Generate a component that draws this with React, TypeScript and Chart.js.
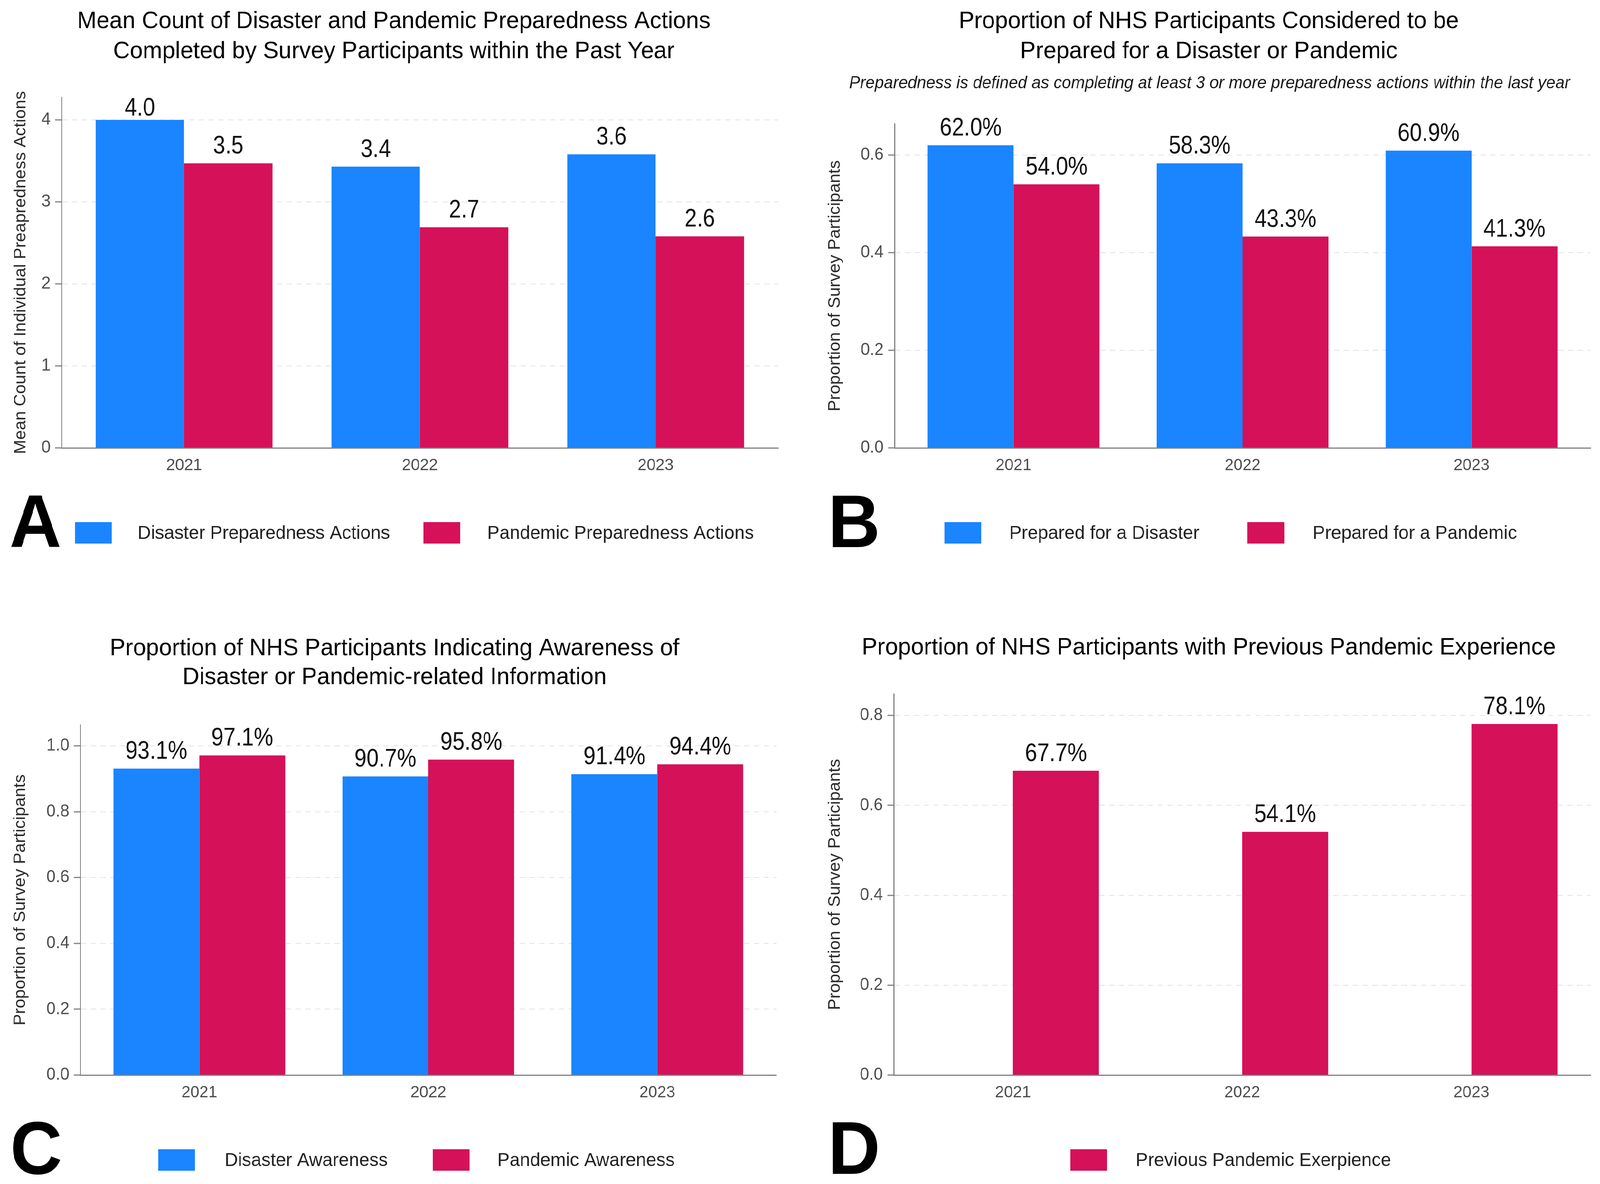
import React, { useEffect, useRef } from "react";
import { Chart, registerables } from "chart.js";

Chart.register(...registerables);

// ---------------- data ----------------
const years = ["2021", "2022", "2023"];

const meanDisasterActions = [4.0, 3.43, 3.58];
const meanPandemicActions = [3.47, 2.69, 2.58];

const preparedDisaster = [0.62, 0.583, 0.609];
const preparedPandemic = [0.54, 0.433, 0.413];

const disasterAwareness = [0.931, 0.907, 0.914];
const pandemicAwareness = [0.971, 0.958, 0.944];

const previousPandemicExperience = [0.677, 0.541, 0.781];
const emptyDodgeSlot = [null, null, null];

const countTicks = [0, 1, 2, 3, 4];
const preparedTicks = [0, 0.2, 0.4, 0.6];
const awarenessTicks = [0, 0.2, 0.4, 0.6, 0.8, 1.0];
const experienceTicks = [0, 0.2, 0.4, 0.6, 0.8];

// ---------------- style ----------------
const FAMILY = "'Liberation Sans', Arial, Helvetica, sans-serif";
const BLUE = "#1A85FF";
const RED = "#D41159";
const AXIS = "#808080";
const GRID = "#e2e2e2";
const TICK_TXT = "#4d4d4d";
const FULL_W = 4266;
const FULL_H = 3032;
const PW = 2133;
const PH = 1516;
const X_AXIS_H = 100;
const LABEL_GAP = 25;
const LABEL_CAP = 47;

const fmtOne = (v: number) => v.toFixed(1);
const fmtPct = (v: number) => (v * 100).toFixed(1) + "%";

type Series = { label: string; values: (number | null)[]; color: string };
type Spec = {
  key: string;
  left: number;
  top: number;
  area: { l: number; r: number; t: number; b: number };
  yMax: number;
  yTicks: number[];
  tickFmt: (v: number) => string;
  labelFmt: (v: number) => string;
  keepLabelsInside?: boolean;
  series: Series[];
  yTitle: string;
  yTitleX: number;
  titleLines: string[];
  titleX: number;
  titleBaselines: number[];
  subtitle?: string;
  subX?: number;
  subBaseline?: number;
  legend: { label: string; color: string; boxX: number; textX: number }[];
  legendTop: number;
  letter: string;
  letterX: number;
  letterBaseline: number;
};

const specs: Spec[] = [
  {
    key: "A",
    left: 0,
    top: 0,
    area: { l: 164, r: 2075, t: 249, b: 1147 },
    yMax: 4.276,
    yTicks: countTicks,
    tickFmt: (v) => String(v),
    labelFmt: fmtOne,
    keepLabelsInside: true,
    series: [
      { label: "Disaster Preparedness Actions", values: meanDisasterActions, color: BLUE },
      { label: "Pandemic Preparedness Actions", values: meanPandemicActions, color: RED },
    ],
    yTitle: "Mean Count of Individual Preapredness Actions",
    yTitleX: 56,
    titleLines: [
      "Mean Count of Disaster and Pandemic Preparedness Actions",
      "Completed by Survey Participants within the Past Year",
    ],
    titleX: 1050,
    titleBaselines: [72, 149],
    legend: [
      { label: "Disaster Preparedness Actions", color: BLUE, boxX: 200, textX: 367 },
      { label: "Pandemic Preparedness Actions", color: RED, boxX: 1129, textX: 1299 },
    ],
    legendTop: 1337,
    letter: "A",
    letterX: 25,
    letterBaseline: 1401,
  },
  {
    key: "B",
    left: PW,
    top: 0,
    area: { l: 252, r: 2108, t: 317, b: 1147 },
    yMax: 0.664,
    yTicks: preparedTicks,
    tickFmt: (v) => v.toFixed(1),
    labelFmt: fmtPct,
    series: [
      { label: "Prepared for a Disaster", values: preparedDisaster, color: BLUE },
      { label: "Prepared for a Pandemic", values: preparedPandemic, color: RED },
    ],
    yTitle: "Proportion of Survey Participants",
    yTitleX: 94,
    titleLines: [
      "Proportion of NHS Participants Considered to be",
      "Prepared for a Disaster or Pandemic",
    ],
    titleX: 1090,
    titleBaselines: [72, 149],
    subtitle:
      "Preparedness is defined as completing at least 3 or more preparedness actions within the last year",
    subX: 1092,
    subBaseline: 226,
    legend: [
      { label: "Prepared for a Disaster", color: BLUE, boxX: 385, textX: 558 },
      { label: "Prepared for a Pandemic", color: RED, boxX: 1193, textX: 1367 },
    ],
    legendTop: 1337,
    letter: "B",
    letterX: 75,
    letterBaseline: 1401,
  },
  {
    key: "C",
    left: 0,
    top: PH,
    area: { l: 214, r: 2070, t: 340, b: 1237 },
    yMax: 1.064,
    yTicks: awarenessTicks,
    tickFmt: (v) => v.toFixed(1),
    labelFmt: fmtPct,
    series: [
      { label: "Disaster Awareness", values: disasterAwareness, color: BLUE },
      { label: "Pandemic Awareness", values: pandemicAwareness, color: RED },
    ],
    yTitle: "Proportion of Survey Participants",
    yTitleX: 55,
    titleLines: [
      "Proportion of NHS Participants Indicating Awareness of",
      "Disaster or Pandemic-related Information",
    ],
    titleX: 1052,
    titleBaselines: [162, 236],
    legend: [
      { label: "Disaster Awareness", color: BLUE, boxX: 422, textX: 599 },
      { label: "Pandemic Awareness", color: RED, boxX: 1154, textX: 1326 },
    ],
    legendTop: 1427,
    letter: "C",
    letterX: 27,
    letterBaseline: 1490,
  },
  {
    key: "D",
    left: PW,
    top: PH,
    area: { l: 250, r: 2108, t: 261, b: 1237 },
    yMax: 0.848,
    yTicks: experienceTicks,
    tickFmt: (v) => v.toFixed(1),
    labelFmt: fmtPct,
    series: [
      { label: "", values: emptyDodgeSlot, color: BLUE },
      { label: "Previous Pandemic Exerpience", values: previousPandemicExperience, color: RED },
    ],
    yTitle: "Proportion of Survey Participants",
    yTitleX: 94,
    titleLines: ["Proportion of NHS Participants with Previous Pandemic Experience"],
    titleX: 1090,
    titleBaselines: [160],
    legend: [{ label: "Previous Pandemic Exerpience", color: RED, boxX: 721, textX: 895 }],
    legendTop: 1427,
    letter: "D",
    letterX: 75,
    letterBaseline: 1490,
  },
];

// ---------------- plugins ----------------
function makeBarLabels(fmt: (v: number) => string, keepInside: boolean) {
  return {
    id: "barLabels",
    afterDatasetsDraw(chart: any) {
      const ctx = chart.ctx;
      const areaTop = chart.chartArea.top;
      ctx.save();
      ctx.font = `64px ${FAMILY}`;
      ctx.fillStyle = "#111111";
      ctx.textAlign = "center";
      ctx.textBaseline = "alphabetic";
      chart.data.datasets.forEach((ds: any, di: number) => {
        const meta = chart.getDatasetMeta(di);
        meta.data.forEach((el: any, i: number) => {
          const raw = ds.data[i];
          if (!raw || raw.y == null) return;
          let baseY = el.y - LABEL_GAP;
          if (keepInside) baseY = Math.max(baseY, areaTop + LABEL_CAP);
          ctx.save();
          ctx.translate(el.x, baseY);
          ctx.scale(0.91, 1);
          ctx.fillText(fmt(raw.y), 0, 0);
          ctx.restore();
        });
      });
      ctx.restore();
    },
  };
}

function makeDecor(p: Spec) {
  return {
    id: "decor",
    afterDraw(chart: any) {
      const ctx = chart.ctx;
      ctx.save();
      ctx.fillStyle = "#000000";
      ctx.textAlign = "center";
      ctx.textBaseline = "alphabetic";
      ctx.font = `62px ${FAMILY}`;
      p.titleLines.forEach((t, i) => ctx.fillText(t, p.titleX, p.titleBaselines[i]));
      if (p.subtitle) {
        ctx.font = `italic 44px ${FAMILY}`;
        ctx.fillStyle = "#1a1a1a";
        ctx.fillText(p.subtitle, p.subX, p.subBaseline);
      }
      // legend
      const boxW = 98;
      const boxH = 55;
      ctx.font = `49px ${FAMILY}`;
      ctx.textAlign = "left";
      ctx.textBaseline = "middle";
      p.legend.forEach((it) => {
        ctx.fillStyle = it.color;
        ctx.fillRect(it.boxX, p.legendTop, boxW, boxH);
        ctx.fillStyle = "#222222";
        ctx.fillText(it.label, it.textX, p.legendTop + boxH / 2 + 2);
      });
      // panel letter
      ctx.textBaseline = "alphabetic";
      ctx.fillStyle = "#000000";
      ctx.font = `bold 192px ${FAMILY}`;
      ctx.fillText(p.letter, p.letterX, p.letterBaseline);
      ctx.restore();
    },
  };
}

function buildConfig(p: Spec, dpr: number): any {
  return {
    type: "bar",
    data: {
      datasets: p.series.map((s) => ({
        label: s.label,
        data: s.values.map((v, i) => ({ x: i, y: v })),
        backgroundColor: s.color,
        borderWidth: 0,
        categoryPercentage: 0.75,
        barPercentage: 1.0,
      })),
    },
    options: {
      responsive: false,
      animation: false,
      devicePixelRatio: dpr,
      events: [],
      layout: {
        padding: {
          left: 0,
          top: p.area.t,
          right: PW - p.area.r,
          bottom: PH - p.area.b - X_AXIS_H,
        },
      },
      plugins: {
        legend: { display: false },
        tooltip: { enabled: false },
        title: { display: false },
      },
      scales: {
        x: {
          type: "linear",
          min: -0.52,
          max: 2.52,
          offset: false,
          afterBuildTicks: (sc: any) => {
            sc.ticks = years.map((_, i) => ({ value: i }));
          },
          afterFit: (sc: any) => {
            sc.height = X_AXIS_H;
          },
          grid: { display: false, drawTicks: false },
          border: { display: true, color: AXIS, width: 3, z: 1 },
          ticks: {
            callback: (v: number) => years[Math.round(v)],
            font: { family: FAMILY, size: 43 },
            color: TICK_TXT,
            padding: 19,
            maxRotation: 0,
            autoSkip: false,
          },
        },
        y: {
          type: "linear",
          min: 0,
          max: p.yMax,
          afterBuildTicks: (sc: any) => {
            sc.ticks = p.yTicks.map((v) => ({ value: v }));
          },
          afterFit: (sc: any) => {
            sc.width = p.area.l;
          },
          grid: {
            display: true,
            drawOnChartArea: true,
            drawTicks: true,
            color: GRID,
            lineWidth: 2,
            tickLength: 17,
            tickColor: AXIS,
            tickWidth: 3,
          },
          border: { display: true, color: AXIS, width: 3, dash: [14, 12], z: 1 },
          ticks: {
            callback: (v: number) => p.tickFmt(v),
            font: { family: FAMILY, size: 44 },
            color: TICK_TXT,
            padding: 12,
            autoSkip: false,
          },
          title: {
            display: true,
            text: p.yTitle,
            font: { family: FAMILY, size: 44, lineHeight: 1 },
            color: "#2b2b2b",
            padding: { top: p.yTitleX - 22, bottom: 0 },
          },
        },
      },
    },
    plugins: [makeDecor(p), makeBarLabels(p.labelFmt, !!p.keepLabelsInside)],
  };
}

function Panel({ spec, dpr }: { spec: Spec; dpr: number }) {
  const ref = useRef<HTMLCanvasElement | null>(null);
  useEffect(() => {
    if (!ref.current) return;
    const chart = new Chart(ref.current, buildConfig(spec, dpr));
    return () => chart.destroy();
  }, [spec, dpr]);
  return (
    <canvas
      ref={ref}
      width={PW}
      height={PH}
      style={{ position: "absolute", left: spec.left, top: spec.top, width: PW, height: PH }}
    />
  );
}

export default function App() {
  const hasWin = typeof window !== "undefined";
  const vw = hasWin ? window.innerWidth : FULL_W;
  const vh = hasWin ? window.innerHeight : FULL_H;
  const sx = vw / FULL_W;
  const sy = vh / FULL_H;
  const dpr = Math.max(sx, sy) * (hasWin ? window.devicePixelRatio || 1 : 1);
  return (
    <div
      style={{
        position: "fixed",
        left: 0,
        top: 0,
        width: FULL_W,
        height: FULL_H,
        background: "#ffffff",
        overflow: "hidden",
        fontFamily: FAMILY,
        transform: `scale(${sx}, ${sy})`,
        transformOrigin: "0 0",
      }}
    >
      {specs.map((sp) => (
        <Panel key={sp.key} spec={sp} dpr={dpr} />
      ))}
    </div>
  );
}
